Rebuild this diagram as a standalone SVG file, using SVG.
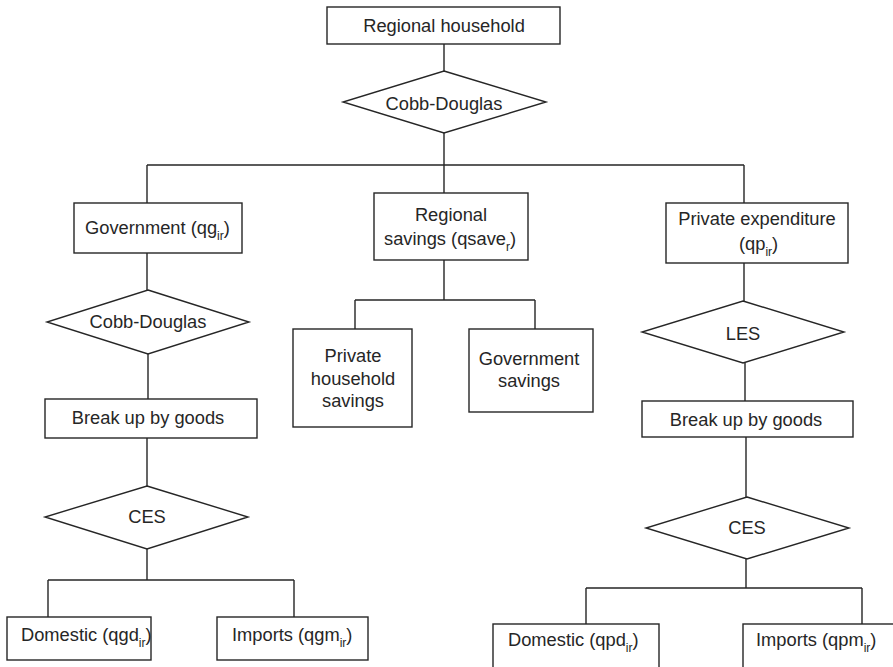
<svg xmlns="http://www.w3.org/2000/svg" width="893" height="667" viewBox="0 0 893 667">
<style>
.b{fill:#fff;stroke:#262626;stroke-width:1.4}
.c{fill:none;stroke:#262626;stroke-width:1.4}
text{font-family:"Liberation Sans",Arial,sans-serif;font-size:18.3px;fill:#262626}
.m{text-anchor:middle}
.s{font-size:12px}
</style>
<rect width="893" height="667" fill="#fff"/>
<g id="connectors">
<path class="c" d="M444 44V71M444 133V193M147 165H744M147 165V203M744 165V203"/>
<path class="c" d="M147 253V290M148 354V399M147 438V486M147 549V580M48 580H294M48 580V617M294 580V617"/>
<path class="c" d="M444 260V300M355 300H535M355 300V329M535 300V329"/>
<path class="c" d="M744 263V301M745 363V401M746 437V497M746 559V588M586 588H862M586 588V624M862 588V624"/>
</g>
<g id="regional-household"><rect class="b" x="327" y="7" width="233" height="37"/><text class="m" x="444" y="32">Regional household</text></g>
<g id="cobb-douglas-top"><polygon class="b" points="444,71 546,102 444,133 343,102"/><text class="m" x="444" y="110">Cobb-Douglas</text></g>
<g id="government"><rect class="b" x="74" y="203" width="168" height="50"/><text x="85" y="234">Government (qg<tspan class="s" dy="6">ir</tspan><tspan dy="-6">)</tspan></text></g>
<g id="regional-savings"><rect class="b" x="374" y="193" width="154" height="67"/><text class="m" x="451" y="221">Regional</text><text x="384" y="245">savings (qsave<tspan class="s" dy="6">r</tspan><tspan dy="-6">)</tspan></text></g>
<g id="private-expenditure"><rect class="b" x="666" y="203" width="182" height="60"/><text class="m" x="757" y="225">Private expenditure</text><text x="739" y="250">(qp<tspan class="s" dy="6">ir</tspan><tspan dy="-6">)</tspan></text></g>
<g id="cobb-douglas-left"><polygon class="b" points="148,290 249,322 148,354 47,322"/><text class="m" x="148" y="328">Cobb-Douglas</text></g>
<g id="private-household-savings"><rect class="b" x="293" y="329" width="119" height="98"/><text class="m" x="353" y="362">Private</text><text class="m" x="353" y="385">household</text><text class="m" x="353" y="407">savings</text></g>
<g id="government-savings"><rect class="b" x="469" y="329" width="124" height="83"/><text class="m" x="529" y="365">Government</text><text class="m" x="529" y="387">savings</text></g>
<g id="les"><polygon class="b" points="743,301 844,332 743,363 642,332"/><text class="m" x="743" y="340">LES</text></g>
<g id="break-up-left"><rect class="b" x="45" y="399" width="212" height="39"/><text class="m" x="148" y="424">Break up by goods</text></g>
<g id="break-up-right"><rect class="b" x="642" y="401" width="211" height="36"/><text class="m" x="746" y="426">Break up by goods</text></g>
<g id="ces-left"><polygon class="b" points="147,486 248,517 147,549 45,517"/><text class="m" x="147" y="523">CES</text></g>
<g id="ces-right"><polygon class="b" points="747,497 849,528 747,559 646,528"/><text class="m" x="747" y="534">CES</text></g>
<g id="domestic-gov"><rect class="b" x="7" y="617" width="144" height="43"/><text x="21" y="641">Domestic (qgd<tspan class="s" dy="6">ir</tspan><tspan dy="-6">)</tspan></text></g>
<g id="imports-gov"><rect class="b" x="217" y="617" width="151" height="43"/><text x="232" y="641">Imports (qgm<tspan class="s" dy="6">ir</tspan><tspan dy="-6">)</tspan></text></g>
<g id="domestic-priv"><rect class="b" x="493" y="624" width="166" height="60"/><text x="508" y="646">Domestic (qpd<tspan class="s" dy="6">ir</tspan><tspan dy="-6">)</tspan></text></g>
<g id="imports-priv"><rect class="b" x="743" y="624" width="160" height="60"/><text x="756" y="646">Imports (qpm<tspan class="s" dy="6">ir</tspan><tspan dy="-6">)</tspan></text></g>
</svg>
